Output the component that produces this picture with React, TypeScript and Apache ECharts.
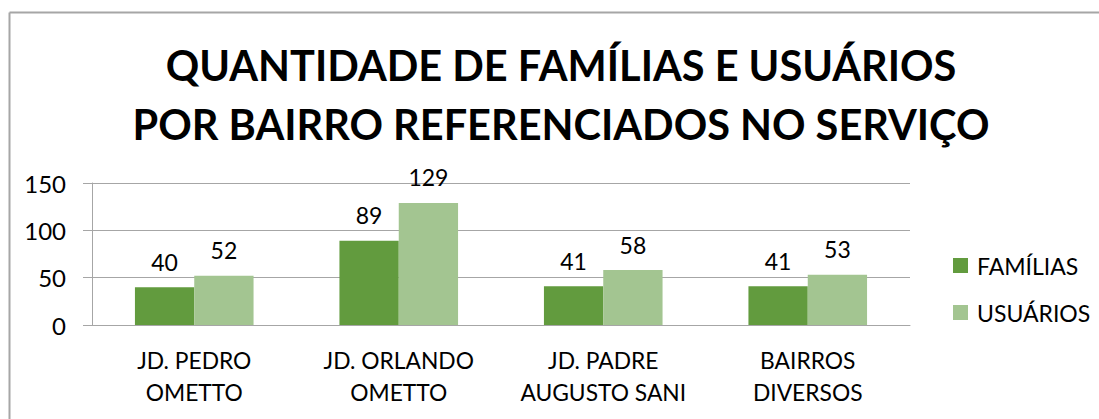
import React, { useEffect, useRef } from "react";
import * as echarts from "echarts";

const categories = [
  "JD. PEDRO\nOMETTO",
  "JD. ORLANDO\nOMETTO",
  "JD. PADRE\nAUGUSTO SANI",
  "BAIRROS\nDIVERSOS",
];
const familias = [40, 89, 41, 41];
const usuarios = [52, 129, 58, 53];
const seriesNames = ["FAMÍLIAS", "USUÁRIOS"];
const titleLines = [
  "QUANTIDADE DE FAMÍLIAS E USUÁRIOS",
  "POR BAIRRO REFERENCIADOS NO SERVIÇO",
];
const yTicks = { min: 0, max: 150, interval: 50 };

const FONT = "Lato, 'Open Sans', sans-serif";
const TITLE_FONT = "Lato, 'Open Sans', sans-serif";
const DARK = "#629b3e";
const LIGHT = "#a3c591";
const GRAY = "#a6a6a6";

export default function App() {
  const ref = useRef<HTMLDivElement>(null);
  useEffect(() => {
    if (!ref.current) return;
    const chart = echarts.init(ref.current, undefined, { renderer: "svg" });
    const labelStyle = {
      show: true,
      position: "top" as const,
      distance: 14,
      fontFamily: FONT,
      fontSize: 23,
      color: "#000",
    };
    chart.setOption({
      animation: false,
      backgroundColor: "#fff",
      graphic: [
        {
          type: "line",
          shape: { x1: 9.5, y1: 12.5, x2: 1099, y2: 12.5 },
          style: { stroke: GRAY, lineWidth: 2 },
        },
        {
          type: "line",
          shape: { x1: 9.5, y1: 12.5, x2: 9.5, y2: 419 },
          style: { stroke: GRAY, lineWidth: 2 },
        },
        {
          type: "text",
          x: 561,
          y: 65,
          style: {
            text: titleLines[0],
            fontFamily: TITLE_FONT,
            fontWeight: "bold",
            fontSize: 41.5,
            fill: "#000",
            align: "center",
            verticalAlign: "middle",
          },
        },
        {
          type: "text",
          x: 561,
          y: 124,
          style: {
            text: titleLines[1],
            fontFamily: TITLE_FONT,
            fontWeight: "bold",
            fontSize: 41.5,
            fill: "#000",
            align: "center",
            verticalAlign: "middle",
          },
        },
      ],
      legend: {
        orient: "vertical",
        left: 953,
        top: 254,
        itemWidth: 15,
        itemHeight: 15,
        itemGap: 24,
        icon: "rect",
        padding: 0,
        data: seriesNames,
        textStyle: {
          fontFamily: FONT,
          fontSize: 23,
          color: "#000",
          padding: [0, 0, 0, 4],
        },
      },
      grid: { left: 92, right: 189, top: 183, bottom: 94, containLabel: false },
      xAxis: {
        type: "category",
        data: categories,
        axisLine: { show: true, lineStyle: { color: GRAY, width: 1 } },
        axisTick: { show: false },
        axisLabel: {
          fontFamily: FONT,
          fontSize: 22.8,
          color: "#000",
          lineHeight: 32,
          margin: 19,
          interval: 0,
        },
      },
      yAxis: {
        type: "value",
        min: yTicks.min,
        max: yTicks.max,
        interval: yTicks.interval,
        axisLine: { show: true, lineStyle: { color: GRAY, width: 1 } },
        axisTick: { show: true, length: 9, lineStyle: { color: GRAY } },
        splitLine: { show: true, lineStyle: { color: GRAY, width: 1 } },
        axisLabel: { fontFamily: FONT, fontSize: 24, color: "#000", margin: 26 },
      },
      series: [
        {
          name: seriesNames[0],
          type: "bar",
          data: familias,
          itemStyle: { color: DARK },
          barGap: "0%",
          barCategoryGap: "42%",
          label: labelStyle,
        },
        {
          name: seriesNames[1],
          type: "bar",
          data: usuarios,
          itemStyle: { color: LIGHT },
          barGap: "0%",
          barCategoryGap: "42%",
          label: labelStyle,
        },
      ],
    });
    return () => chart.dispose();
  }, []);
  return (
    <div
      ref={ref}
      style={{ position: "absolute", left: 0, top: 0, width: 1099, height: 419 }}
    />
  );
}
